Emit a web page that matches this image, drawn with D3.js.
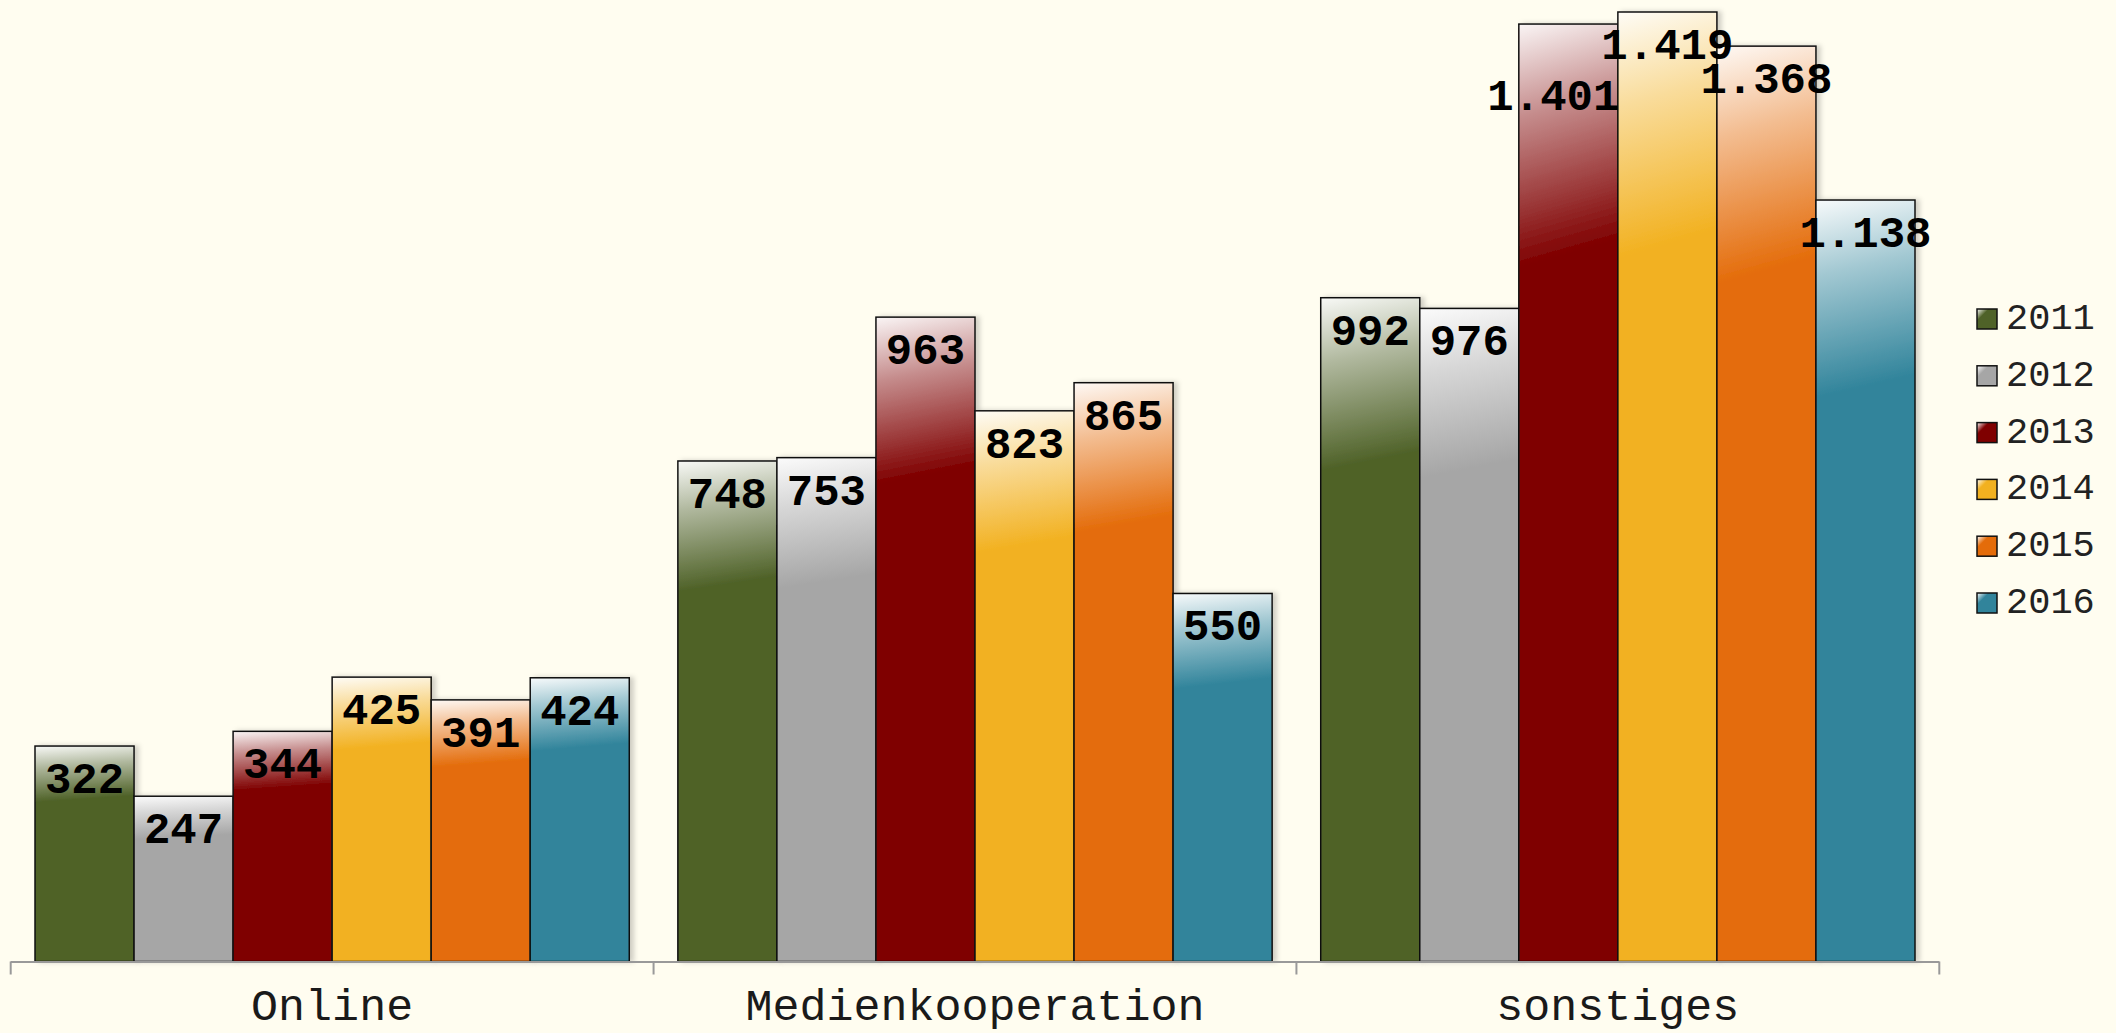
<!DOCTYPE html>
<html>
<head>
<meta charset="utf-8">
<script src="https://cdn.jsdelivr.net/npm/d3@7"></script>
<style>
  html, body { margin: 0; padding: 0; background: #fffdf0; }
  svg { display: block; }
</style>
</head>
<body>
<svg id="chart" width="2116" height="1033"></svg>
<script>
var categories = ['Online', 'Medienkooperation', 'sonstiges'];
var years = ['2011', '2012', '2013', '2014', '2015', '2016'];
var colors = ['#4f6228', '#a6a6a6', '#7f0000', '#f2b120', '#e46c0a', '#31849b'];
var values2011 = [322, 748, 992];
var values2012 = [247, 753, 976];
var values2013 = [344, 963, 1401];
var values2014 = [425, 823, 1419];
var values2015 = [391, 865, 1368];
var values2016 = [424, 550, 1138];
var series = [values2011, values2012, values2013, values2014, values2015, values2016];

// label pushed aside where it would collide with its neighbour
var labelNudge = { 'sonstiges|2013': [-15, 39] };

var W = 2116, H = 1033;
var svg = d3.select('#chart');
var defs = svg.append('defs');

var shadow = defs.append('filter').attr('id', 'shadow').attr('x', '-10%').attr('y', '-10%').attr('width', '130%').attr('height', '120%');
shadow.append('feDropShadow').attr('dx', 4).attr('dy', 0).attr('stdDeviation', 2.5)
  .attr('flood-color', '#000').attr('flood-opacity', 0.18);

years.forEach(function(y, i) {
  var g = defs.append('linearGradient').attr('id', 'grad' + i)
    .attr('x1', 0).attr('y1', 0).attr('x2', 0.03).attr('y2', 1);
  g.append('stop').attr('offset', 0).attr('stop-color', d3.interpolateRgb('#ffffff', colors[i])(0.04));
  g.append('stop').attr('offset', 0.1).attr('stop-color', d3.interpolateRgb('#ffffff', colors[i])(0.45));
  g.append('stop').attr('offset', 0.26).attr('stop-color', colors[i]);
  g.append('stop').attr('offset', 1).attr('stop-color', colors[i]);

  var lg = defs.append('linearGradient').attr('id', 'lgrad' + i)
    .attr('x1', 0).attr('y1', 0).attr('x2', 1).attr('y2', 1);
  lg.append('stop').attr('offset', 0).attr('stop-color', '#ffffff');
  lg.append('stop').attr('offset', 0.3).attr('stop-color', colors[i]);
  lg.append('stop').attr('offset', 1).attr('stop-color', colors[i]);
});

var x0 = d3.scaleBand().domain(categories).range([10.7, 1939.3]).padding(0);
var bw = x0.bandwidth();
var pad = bw * 0.0378;
var x1 = d3.scaleBand().domain(years).range([pad, bw - pad]).padding(0);
var y = d3.scaleLinear().domain([0, 1419]).range([961.5, 12]);

var de = d3.formatLocale({ decimal: ',', thousands: '.', grouping: [3], currency: ['', ' €'] });
var fmt = de.format(',d');

var rows = [];
categories.forEach(function(c, ci) {
  years.forEach(function(yr, si) {
    rows.push({ cat: c, year: yr, si: si, v: series[si][ci] });
  });
});

// bars
svg.append('g').selectAll('rect').data(rows).enter().append('rect')
  .attr('x', function(d) { return x0(d.cat) + x1(d.year); })
  .attr('y', function(d) { return y(d.v); })
  .attr('width', x1.bandwidth())
  .attr('height', function(d) { return y(0) - y(d.v); })
  .attr('fill', function(d) { return 'url(#grad' + d.si + ')'; })
  .attr('stroke', '#111')
  .attr('stroke-width', 1.5)
  .attr('filter', 'url(#shadow)');

// x axis
var axis = svg.append('g').attr('class', 'axis');
axis.append('line')
  .attr('x1', x0.range()[0]).attr('x2', x0.range()[1])
  .attr('y1', y(0) + 0.5).attr('y2', y(0) + 0.5)
  .attr('stroke', '#999').attr('stroke-width', 2);
var tickPos = categories.map(function(c) { return x0(c); }).concat([x0.range()[1]]);
axis.selectAll('line.tick').data(tickPos).enter().append('line').attr('class', 'tick')
  .attr('x1', function(d) { return d; }).attr('x2', function(d) { return d; })
  .attr('y1', y(0)).attr('y2', y(0) + 13)
  .attr('stroke', '#999').attr('stroke-width', 2);
axis.selectAll('text').data(categories).enter().append('text')
  .attr('x', function(d) { return x0(d) + bw / 2; })
  .attr('y', 1020)
  .attr('text-anchor', 'middle')
  .attr('font-family', '"Liberation Mono", "Courier New", monospace')
  .attr('font-size', 45)
  .attr('fill', '#1a1a1a')
  .text(function(d) { return d; });

// value labels
svg.append('g').selectAll('text').data(rows).enter().append('text')
  .attr('x', function(d) {
    var n = labelNudge[d.cat + '|' + d.year];
    return x0(d.cat) + x1(d.year) + x1.bandwidth() / 2 + (n ? n[0] : 0);
  })
  .attr('y', function(d) {
    var n = labelNudge[d.cat + '|' + d.year];
    return y(d.v) + 47 + (n ? n[1] : 0);
  })
  .attr('text-anchor', 'middle')
  .attr('font-family', '"Liberation Mono", "Courier New", monospace')
  .attr('font-weight', 'bold')
  .attr('font-size', 44)
  .attr('fill', '#000')
  .text(function(d) { return fmt(d.v); });

// legend
var legend = svg.append('g').attr('transform', 'translate(1977,309)');
var item = legend.selectAll('g').data(years).enter().append('g')
  .attr('transform', function(d, i) { return 'translate(0,' + (i * 56.8) + ')'; });
item.append('rect').attr('width', 20).attr('height', 20)
  .attr('fill', function(d, i) { return 'url(#lgrad' + i + ')'; })
  .attr('stroke', '#111').attr('stroke-width', 1.5);
item.append('text').attr('x', 29).attr('y', 20)
  .attr('font-family', '"Liberation Mono", "Courier New", monospace')
  .attr('font-size', 37)
  .attr('fill', '#222')
  .text(function(d) { return d; });
</script>
</body>
</html>
